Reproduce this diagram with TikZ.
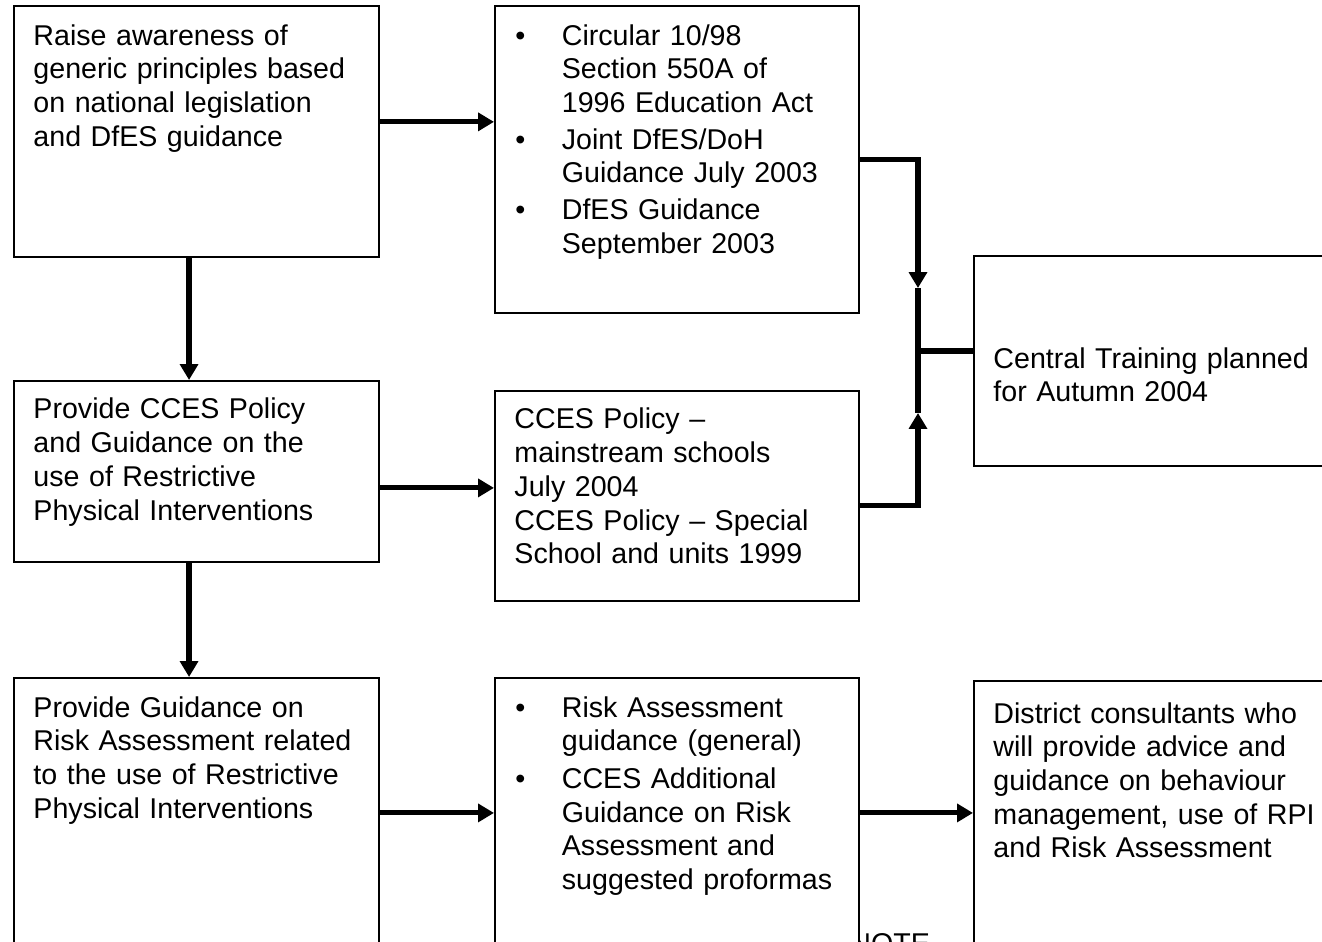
\documentclass[tikz,border=0pt]{standalone}
\usepackage{fontspec}
\setmainfont{Liberation Sans}
\usetikzlibrary{arrows.meta}
\newcommand{\bul}{\makebox[20.4pt][l]{\hspace{0.4pt}\textbullet}}
\newcommand{\ind}{\hspace*{20.4pt}}

\begin{document}
\begin{tikzpicture}[x = 0.43pt, y = -0.43pt,
box/.style = {draw, fill = white, line width = 0.8pt, shape = rectangle, anchor = north west, align = left, inner xsep = 8.4pt, inner ysep = 0pt, font = \fontsize{12.3pt}{14.5pt}\selectfont},
flow/.style = {line width = 2.2pt, -{Triangle[length = 6.8pt, width = 7.6pt]}},
link/.style = {line width = 2.2pt}]
\clip (0,0) rectangle (1322,942);
\node[font = \fontsize{12.3pt}{14.5pt}\selectfont, anchor = base west, inner sep = 0pt] (9) at (850,953) {NOTE};
\node[box, text width = 140.2pt, text height = 16.8pt, text depth = 91.1pt] (1) at (13,5) {Raise awareness of\\ generic principles based\\ on national legislation\\ and DfES guidance};
\node[box, text width = 139.7pt, text height = 16.8pt, text depth = 115.2pt] (2) at (494,5) {\bul Circular 10/98\\ \ind Section 550A of\\ \ind 1996 Education Act\\[1.3pt] \bul Joint DfES/DoH\\ \ind Guidance July 2003\\[1.3pt] \bul DfES Guidance\\ \ind September 2003};
\node[box, text width = 140.2pt, text height = 16.3pt, text depth = 61.5pt] (3) at (13,380) {Provide CCES Policy\\ and Guidance on the\\ use of Restrictive\\ Physical Interventions};
\node[box, text width = 139.7pt, text height = 16.3pt, text depth = 74pt] (4) at (494,390) {CCES Policy –\\ mainstream schools\\ July 2004\\ CCES Policy – Special\\ School and units 1999};
\node[box, text width = 149.6pt, text height = 48.2pt, text depth = 42.1pt] (5) at (973,255) {Central Training planned\\ for Autumn 2004};
\node[box, text width = 140.2pt, text height = 16.8pt, text depth = 99.3pt] (6) at (13,677) {Provide Guidance on\\ Risk Assessment related\\ to the use of Restrictive\\ Physical Interventions};
\node[box, text width = 139.7pt, text height = 16.8pt, text depth = 99.3pt] (7) at (494,677) {\bul Risk Assessment\\ \ind guidance (general)\\[1.7pt] \bul CCES Additional\\ \ind Guidance on Risk\\ \ind Assessment and\\ \ind suggested proformas};
\node[box, text width = 149.6pt, text height = 18.1pt, text depth = 96.7pt] (8) at (973,680) {District consultants who\\ will provide advice and\\ guidance on behaviour\\ management, use of RPI\\ and Risk Assessment};
\coordinate (10) at (918,288);
\coordinate (11) at (918,413);
\coordinate (12) at (918,351);
\draw[flow] ([yshift = 4.1pt]1.east) -- ([yshift = 4.1pt]1.east -| 2.west);
\draw[flow] ([xshift = -3.2pt]1.south) -- ([xshift = -3.2pt]3.north);
\draw[flow] ([yshift = -7.1pt]3.east) -- ([yshift = -7.1pt]3.east -| 4.west);
\draw[flow] ([xshift = -3.2pt]3.south) -- ([xshift = -3.2pt]6.north);
\draw[flow] (6.east) -- (6.east -| 7.west);
\draw[flow] (7.east) -- (7.east -| 8.west);
\draw[flow] (2.east) -| (10);
\draw[flow] ([yshift = -4.3pt]4.east) -| (11);
\draw[link] (10) -- (11);
\draw[link] (12) -- (12 -| 5.west);
\end{tikzpicture}
\end{document}
